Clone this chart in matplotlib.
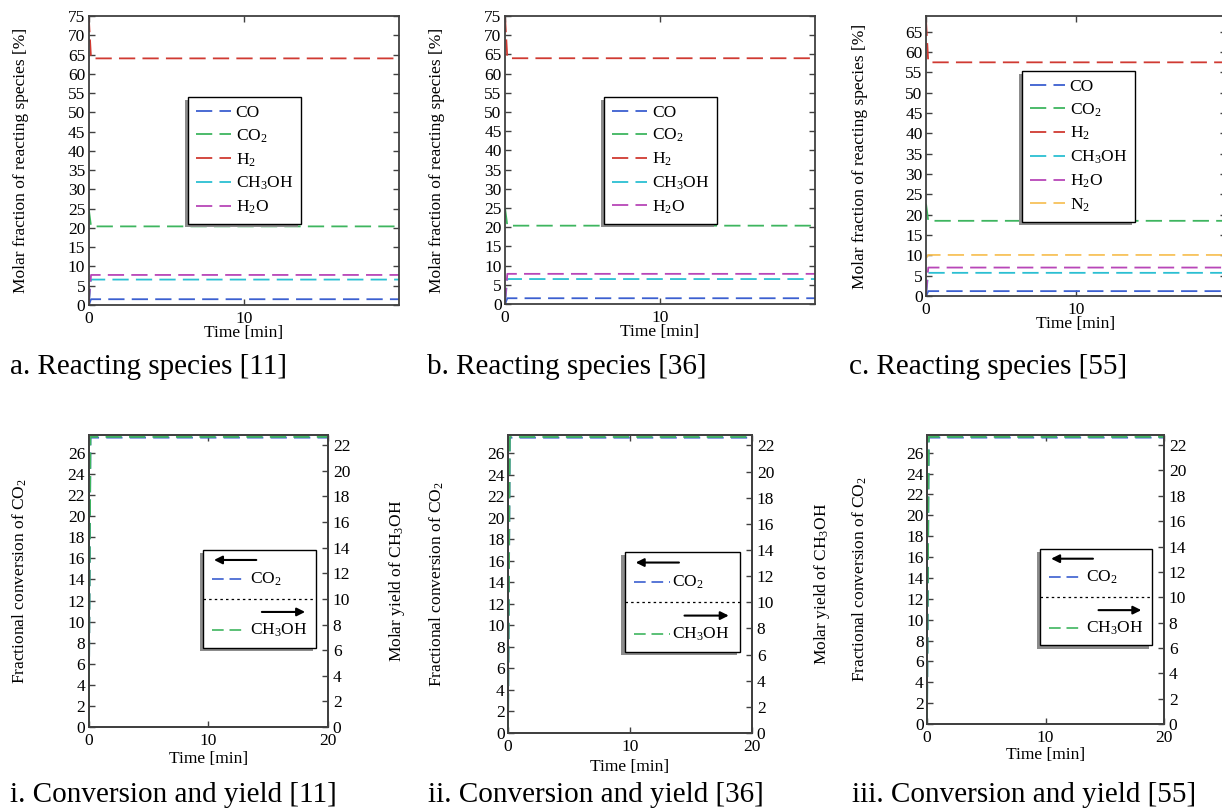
import matplotlib
matplotlib.use('Agg')
import matplotlib.pyplot as plt
from matplotlib.patches import Rectangle

plt.rcParams['font.family'] = 'Liberation Serif'
plt.rcParams['mathtext.fontset'] = 'custom'
plt.rcParams['mathtext.rm'] = 'Liberation Serif'
plt.rcParams['mathtext.it'] = 'Liberation Serif:italic'
plt.rcParams['mathtext.default'] = 'regular'

# ---- data ----
time_min = [0.0, 0.15, 20.0]

species_ab = ['CO', 'CO$_2$', 'H$_2$', 'CH$_3$OH', 'H$_2$O']
species_c = ['CO', 'CO$_2$', 'H$_2$', 'CH$_3$OH', 'H$_2$O', 'N$_2$']

# molar fraction [%]: value at t=0 and steady value
a_start = [0.0, 25.0, 75.0, 0.0, 0.0]
a_end = [1.5, 20.4, 64.0, 6.6, 7.8]
b_start = [0.0, 25.0, 75.0, 0.0, 0.0]
b_end = [1.5, 20.4, 64.0, 6.5, 7.85]
c_start = [0.0, 22.7, 68.0, 0.0, 0.0, 9.3]
c_end = [1.2, 18.5, 57.5, 5.7, 7.0, 10.1]

# conversion / yield panels
conv_co2 = [0.0, 27.45, 27.45]
yield_ch3oh = [0.0, 22.65, 22.65]

captions_top = ['a. Reacting species [11]', 'b. Reacting species [36]', 'c. Reacting species [55]']
captions_bot = ['i. Conversion and yield [11]', 'ii. Conversion and yield [36]', 'iii. Conversion and yield [55]']

colors = ['#3b5fd0', '#3eb55f', '#d03a32', '#2bbfd2', '#b846b8', '#f7c25a']
frame_col = '0.25'
FS = 12.5

W, H = 1222, 811
fig = plt.figure(figsize=(W / 100, H / 100), dpi=100)


def px_axes(x0, x1, y0, y1):
    # pixel box (left, right, top, bottom) -> figure fraction
    return [x0 / W, 1 - y1 / H, (x1 - x0) / W, (y1 - y0) / H]


def style(ax):
    for s in ax.spines.values():
        s.set_color(frame_col)
        s.set_linewidth(1.3)
    ax.tick_params(direction='in', length=4, width=1, color=frame_col,
                   labelsize=FS, labelcolor='k')
    ax.tick_params(axis='x', pad=4.5)
    ax.tick_params(axis='y', pad=2.5)


legends = []


def species_panel(pos, starts, ends, labels, ylim, yticks, leg_anchor, ylab_x, xlab_y):
    ax = fig.add_axes(pos)
    for lbl, s, e, c in zip(labels, starts, ends, colors):
        ax.plot(time_min, [s, e, e], color=c, lw=1.3, dashes=(9, 4), label=lbl)
    ax.set_xlim(0, 20)
    ax.set_ylim(*ylim)
    ax.set_xticks([0, 10])
    ax.set_yticks(yticks)
    style(ax)
    ax.tick_params(top=True, right=True)
    ax.set_xlabel('Time [min]', fontsize=FS)
    ax.xaxis.set_label_coords(0.5, xlab_y)
    ax.set_ylabel('Molar fraction of reacting species [%]', fontsize=FS)
    ax.yaxis.set_label_coords(ylab_x, 0.5)
    ax.yaxis.label.set_va('center')
    leg = ax.legend(loc='upper left', bbox_to_anchor=leg_anchor, borderaxespad=0,
                    fancybox=False, edgecolor='k', framealpha=1, fontsize=FS,
                    handlelength=2.0, handletextpad=0.3, labelspacing=0.37,
                    borderpad=0.45)
    leg.get_frame().set_linewidth(1.0)
    legends.append((ax, leg))
    return ax


def conv_panel(pos, ylab_x, xlab_y, rlab_x=1.288):
    ax1 = fig.add_axes(pos)
    ax2 = ax1.twinx()
    ax1.plot(time_min, conv_co2, color=colors[0], lw=1.3, dashes=(9, 4))
    ax2.plot(time_min, yield_ch3oh, color=colors[1], lw=1.3, dashes=(9, 4))
    ax1.set_xlim(0, 20)
    ax1.set_xticks([0, 10, 20])
    ax1.set_ylim(0, 27.7)
    ax1.set_yticks(range(0, 27, 2))
    ax2.set_ylim(0, 22.8)
    ax2.set_yticks(range(0, 23, 2))
    style(ax1)
    style(ax2)
    ax1.tick_params(axis='x', top=True)
    ax2.tick_params(axis='y', pad=3.5)
    ax1.set_xlabel('Time [min]', fontsize=FS)
    ax1.xaxis.set_label_coords(0.5, xlab_y)
    ax1.set_ylabel('Fractional conversion of CO$_2$', fontsize=FS)
    ax1.yaxis.set_label_coords(ylab_x, 0.5)
    ax1.yaxis.label.set_va('center')
    ax2.set_ylabel('Molar yield of CH$_3$OH', fontsize=FS)
    ax2.yaxis.set_label_coords(rlab_x, 0.5)
    ax2.yaxis.label.set_va('center')

    # hand-made two-axis legend (arrows point to the axis each curve uses)
    tr = ax2.transAxes
    bx0, bx1, by0, by1 = 0.478, 0.95, 0.272, 0.607
    ax2.add_patch(Rectangle((bx0 - 0.013, by0 - 0.011), bx1 - bx0, by1 - by0, transform=tr,
                            facecolor='0.55', edgecolor='none', zorder=8))
    ax2.add_patch(Rectangle((bx0, by0), bx1 - bx0, by1 - by0, transform=tr,
                            facecolor='white', edgecolor='k', lw=1.0, zorder=9))
    ax2.annotate('', xy=(0.512, 0.572), xytext=(0.712, 0.572), xycoords=tr, textcoords=tr,
                 arrowprops=dict(arrowstyle='-|>', color='k', lw=1.5, mutation_scale=12),
                 zorder=10)
    ax2.plot([0.516, 0.662], [0.507, 0.507], transform=tr, color=colors[0], lw=1.2,
             dashes=(7, 3.5), zorder=10)
    ax2.text(0.672, 0.507, 'CO$_2$', transform=tr, fontsize=FS, va='center', zorder=10)
    ax2.plot([bx0, bx1], [0.438, 0.438], transform=tr, color='k', lw=0.9,
             dashes=(2, 2.5), zorder=10)
    ax2.annotate('', xy=(0.916, 0.394), xytext=(0.712, 0.394), xycoords=tr, textcoords=tr,
                 arrowprops=dict(arrowstyle='-|>', color='k', lw=1.5, mutation_scale=12),
                 zorder=10)
    ax2.plot([0.516, 0.662], [0.332, 0.332], transform=tr, color=colors[1], lw=1.2,
             dashes=(7, 3.5), zorder=10)
    ax2.text(0.672, 0.332, 'CH$_3$OH', transform=tr, fontsize=FS, va='center', zorder=10)
    return ax1, ax2


yt75 = range(0, 76, 5)
species_panel(px_axes(88.7, 399, 16, 305), a_start, a_end, species_ab, (0, 75), yt75,
              (0.32, 0.72), -0.218, -0.07)
species_panel(px_axes(505, 815, 16, 304), b_start, b_end, species_ab, (0, 75), yt75,
              (0.32, 0.72), -0.218, -0.07)
species_panel(px_axes(926, 1226, 16, 296), c_start, c_end, species_c, (0, 68.9),
              range(0, 66, 5), (0.32, 0.804), -0.22, -0.072)

conv_panel(px_axes(88.7, 328, 435, 727), -0.287, -0.082)
conv_panel(px_axes(508, 752, 435, 733), -0.291, -0.088)
# right-hand label of the last panel falls outside the picture, as in the source
conv_panel(px_axes(927, 1164, 435, 724), -0.283, -0.08, rlab_x=1.33)

for x, txt in zip([10, 427, 849], captions_top):
    fig.text(x / W, 1 - 374 / H, txt, fontsize=21, va='baseline')
for x, txt in zip([10, 428, 852], captions_bot):
    fig.text(x / W, 1 - 802 / H, txt, fontsize=21, va='baseline')

# legend shadows: grey copy of the frame shifted left and down
fig.canvas.draw()
for ax, leg in legends:
    bb = leg.get_window_extent()
    ax.add_patch(Rectangle((bb.x0 - 3, bb.y0 - 3), bb.width, bb.height, transform=None,
                           facecolor='0.55', edgecolor='none', zorder=4.9))

fig.savefig('out.png', dpi=100)
